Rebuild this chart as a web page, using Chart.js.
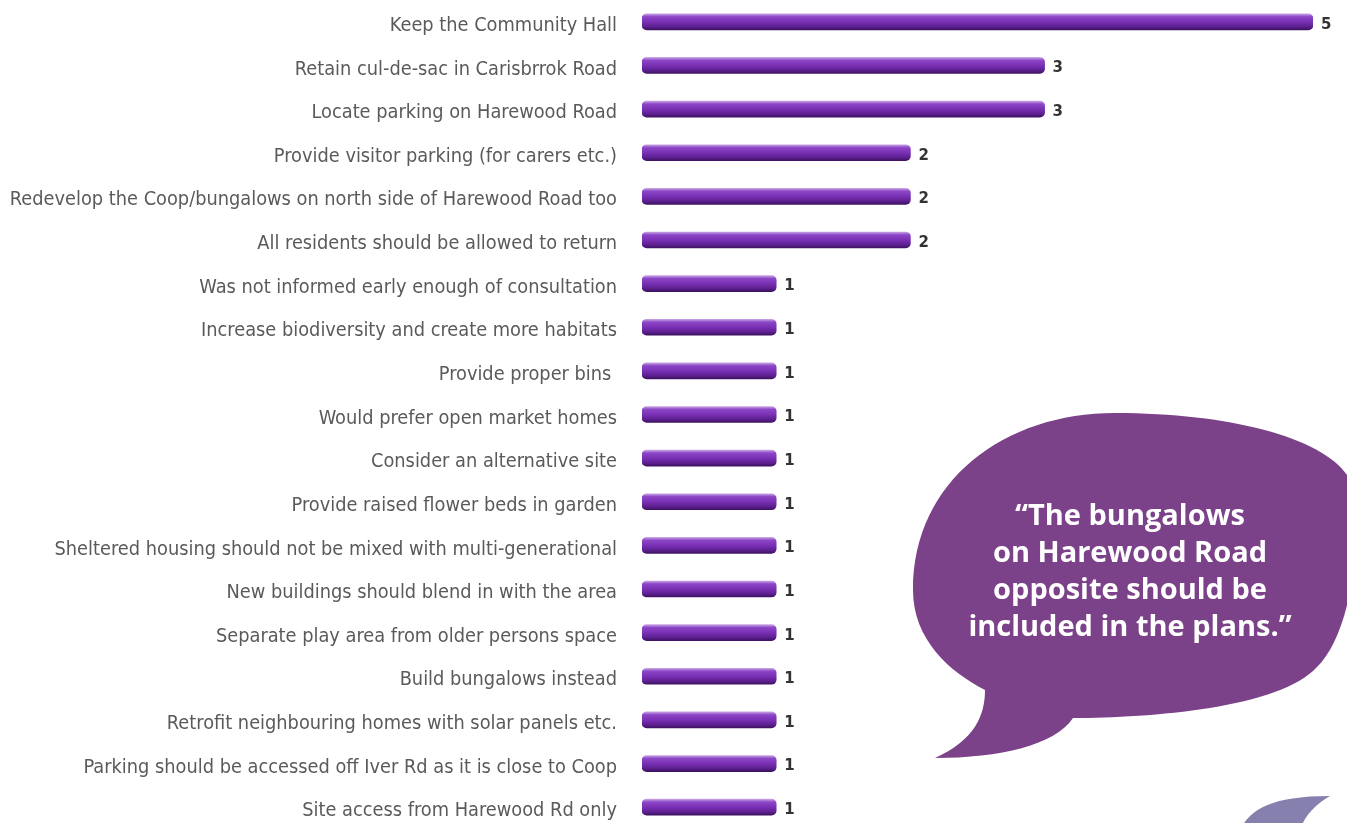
<!DOCTYPE html>
<html>
<head>
<meta charset="utf-8">
<title>Consultation comments</title>
<script src="https://cdn.jsdelivr.net/npm/chart.js@4.4.1/dist/chart.umd.min.js"></script>
<style>
  html, body { margin: 0; padding: 0; background: #fff; overflow: hidden; }
  #wrap { position: relative; width: 1347px; height: 829px; }
</style>
</head>
<body>
<div id="wrap"><canvas id="commentsChart"></canvas></div>
<script>
// ---------------- Data ----------------
const comments = [
  "Keep the Community Hall",
  "Retain cul-de-sac in Carisbrrok Road",
  "Locate parking on Harewood Road",
  "Provide visitor parking (for carers etc.)",
  "Redevelop the Coop/bungalows on north side of Harewood Road too",
  "All residents should be allowed to return",
  "Was not informed early enough of consultation",
  "Increase biodiversity and create more habitats",
  "Provide proper bins ",
  "Would prefer open market homes",
  "Consider an alternative site",
  "Provide raised flower beds in garden",
  "Sheltered housing should not be mixed with multi-generational",
  "New buildings should blend in with the area",
  "Separate play area from older persons space",
  "Build bungalows instead",
  "Retrofit neighbouring homes with solar panels etc.",
  "Parking should be accessed off Iver Rd as it is close to Coop",
  "Site access from Harewood Rd only"
];
const counts = [5, 3, 3, 2, 2, 2, 1, 1, 1, 1, 1, 1, 1, 1, 1, 1, 1, 1, 1];
const axisMax = 5;

const quoteLines = [
  "\u201CThe bungalows",
  "on Harewood Road",
  "opposite should be",
  "included in the plans.\u201D"
];

// ---------------- Bar shading ----------------
const barSize = 16;
function tubeFill(context) {
  const chart = context.chart;
  const y = chart.scales.y;
  if (!y || context.dataIndex === undefined) return "#7a31b4";
  const cy = y.getPixelForValue(context.dataIndex);
  if (!Number.isFinite(cy)) return "#7a31b4";
  const g = chart.ctx.createLinearGradient(0, cy - barSize / 2, 0, cy + barSize / 2);
  g.addColorStop(0, "#c7a2e4");
  g.addColorStop(0.18, "#8c46c6");
  g.addColorStop(0.5, "#7a30b5");
  g.addColorStop(0.8, "#5d2090");
  g.addColorStop(1, "#3e1262");
  return g;
}

// ---------------- Value labels ----------------
const valueLabels = {
  id: "valueLabels",
  afterDatasetsDraw(chart) {
    const ctx = chart.ctx;
    const meta = chart.getDatasetMeta(0);
    ctx.save();
    ctx.font = "bold 15px 'DejaVu Sans'";
    ctx.fillStyle = "#333";
    ctx.textAlign = "left";
    ctx.textBaseline = "middle";
    meta.data.forEach((bar, i) => {
      ctx.fillText(String(counts[i]), bar.x + 8, bar.y + 3);
    });
    ctx.restore();
  }
};

// ---------------- Speech bubbles ----------------
const bubbles = {
  id: "bubbles",
  afterDraw(chart) {
    const ctx = chart.ctx;
    ctx.save();

    // main quote bubble
    ctx.fillStyle = "#7b4189";
    ctx.beginPath();
    ctx.moveTo(985, 690);
    ctx.bezierCurveTo(950, 672, 913, 640, 913, 590);
    ctx.bezierCurveTo(913, 480, 1005, 413, 1115, 413);
    ctx.bezierCurveTo(1235, 413, 1330, 440, 1350, 480);
    ctx.bezierCurveTo(1365, 560, 1345, 640, 1317, 667);
    ctx.bezierCurveTo(1280, 708, 1150, 718, 1073, 718);
    ctx.bezierCurveTo(1055, 745, 1000, 758, 935, 758);
    ctx.bezierCurveTo(975, 740, 985, 715, 985, 690);
    ctx.closePath();
    ctx.fill();

    ctx.fillStyle = "#fff";
    ctx.font = "bold 29px 'Open Sans'";
    ctx.textAlign = "center";
    ctx.textBaseline = "middle";
    quoteLines.forEach((line, i) => {
      ctx.fillText(line, 1130, 517 + i * 37);
    });

    // tail of the next bubble, bottom right
    ctx.fillStyle = "#8580ae";
    ctx.beginPath();
    ctx.moveTo(1240, 830);
    ctx.bezierCurveTo(1250, 810, 1270, 796, 1330, 796);
    ctx.bezierCurveTo(1315, 805, 1305, 815, 1300, 830);
    ctx.closePath();
    ctx.fill();

    ctx.restore();
  }
};

// ---------------- Chart ----------------
const ctx = document.getElementById("commentsChart").getContext("2d");
const chart = new Chart(ctx, {
  type: "bar",
  data: {
    labels: comments,
    datasets: [
      {
        data: counts,
        backgroundColor: tubeFill,
        borderWidth: 0,
        borderRadius: 5,
        borderSkipped: false,
        barThickness: barSize
      }
    ]
  },
  options: {
    indexAxis: "y",
    responsive: true,
    maintainAspectRatio: false,
    animation: false,
    layout: { padding: { top: 0, right: 34, bottom: 0, left: 0 } },
    plugins: {
      legend: { display: false },
      tooltip: { enabled: false }
    },
    scales: {
      x: {
        display: false,
        min: 0,
        max: axisMax
      },
      y: {
        grid: { display: false, drawTicks: false },
        border: { display: false },
        afterFit(scale) {
          scale.width = 642;
          scale.paddingTop = 0;
          scale.paddingBottom = 0;
        },
        ticks: {
          padding: 25,
          labelOffset: 4,
          color: "#5a5a5a",
          font: { family: "'DejaVu Sans Condensed'", size: 19.8 }
        }
      }
    }
  },
  plugins: [valueLabels, bubbles]
});
</script>
</body>
</html>
